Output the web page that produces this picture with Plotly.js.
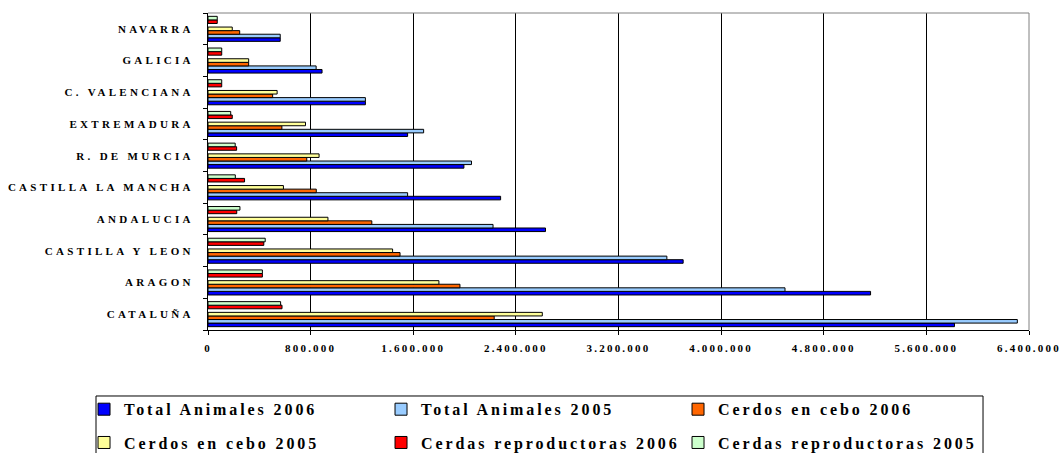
<!DOCTYPE html>
<html>
<head>
<meta charset="utf-8">
<script src="https://cdn.plot.ly/plotly-3.0.1.min.js"></script>
<style>
html,body{margin:0;padding:0;background:#fff;}
#chart{width:1061px;height:453px;}
.ytick text{letter-spacing:3.3px;}
.xtick text{letter-spacing:2.2px;}
</style>
</head>
<body>
<div id="chart"></div>
<script>
// Categories listed bottom to top
const categories = ['CATALUÑA','ARAGON','CASTILLA Y LEON','ANDALUCIA','CASTILLA LA MANCHA','R. DE MURCIA','EXTREMADURA','C. VALENCIANA','GALICIA','NAVARRA'];

const totalAnimales2006 = [5819000, 5165000, 3704000, 2631000, 2281000, 1995000, 1556000, 1227000, 889000, 563000];
const totalAnimales2005 = [6309000, 4498000, 3577000, 2222000, 1556000, 2054000, 1681000, 1227000, 843000, 563000];
const cerdosCebo2006   = [2231000, 1964000, 1497000, 1277000, 844000, 770000, 576000, 504000, 317000, 247000];
const cerdosCebo2005   = [2606000, 1800000, 1439000, 935000, 588000, 866000, 760000, 539000, 317000, 189000];
const cerdasRepr2006   = [577000, 424000, 435000, 224000, 285000, 223000, 189000, 107000, 107000, 72000];
const cerdasRepr2005   = [566000, 424000, 446000, 249000, 213000, 212000, 177000, 107000, 107000, 72000];
const emptySlot        = [0,0,0,0,0,0,0,0,0,0];

const seriesNames = ['Total Animales 2006','Total Animales 2005','Cerdos en cebo 2006','Cerdos en cebo 2005','Cerdas reproductoras 2006','Cerdas reproductoras 2005'];
const seriesColors = ['#0000FF','#99CCFF','#FF6600','#FFFF99','#FF0000','#CCFFCC'];

function bar(name, vals, color, legend) {
  return {
    type: 'bar', orientation: 'h', name: name, x: vals, y: categories,
    marker: {color: color, line: {color: '#000000', width: 1}},
    legend: legend, hoverinfo: 'x+name'
  };
}

const lastTrace = bar(seriesNames[5], cerdasRepr2005, seriesColors[5], 'legend2');
lastTrace.legendwidth = 275;

const traces = [
  bar(seriesNames[0], totalAnimales2006, seriesColors[0], 'legend'),
  bar(seriesNames[1], totalAnimales2005, seriesColors[1], 'legend'),
  bar(seriesNames[2], cerdosCebo2006, seriesColors[2], 'legend'),
  bar(seriesNames[3], cerdosCebo2005, seriesColors[3], 'legend2'),
  {type: 'bar', orientation: 'h', x: emptySlot, y: categories, showlegend: false,
   marker: {color: 'rgba(0,0,0,0)', line: {width: 0}}, hoverinfo: 'skip'},
  bar(seriesNames[4], cerdasRepr2006, seriesColors[4], 'legend2'),
  lastTrace
];

const serif = 'Liberation Serif, Times New Roman, serif';
function makeLegend(y) {
  return {
    orientation: 'h', xanchor: 'left', yanchor: 'top',
    x: -0.151, y: y, entrywidth: 252, entrywidthmode: 'pixels',
    font: {family: serif, size: 16, color: '#000000', weight: 'bold'},
    bgcolor: 'rgba(0,0,0,0)', borderwidth: 0, itemclick: false, itemdoubleclick: false
  };
}

const layout = {
  width: 1061, height: 453,
  margin: {l: 208, r: 32, t: 13, b: 123, autoexpand: false},
  paper_bgcolor: '#ffffff', plot_bgcolor: '#ffffff',
  separators: ',.',
  barmode: 'group', bargap: 0.21, bargroupgap: 0,
  font: {family: serif, color: '#000'},
  xaxis: {
    range: [0, 6400000], tick0: 0, dtick: 800000, tickformat: ',d',
    showgrid: true, gridcolor: '#000000', gridwidth: 1,
    zeroline: false, showline: true, linecolor: '#000000', linewidth: 1,
    ticks: 'outside', ticklen: 4, tickcolor: '#000',
    tickfont: {family: serif, size: 11, color: '#000', weight: 'bold'},
    ticklabelstandoff: 4, ticklabeloverflow: 'allow',
    fixedrange: true
  },
  yaxis: {
    type: 'category', showgrid: false, zeroline: false,
    showline: true, linecolor: '#000000', linewidth: 1,
    ticks: 'outside', ticklen: 4, tickcolor: '#000', tickson: 'boundaries',
    tickfont: {family: serif, size: 11, color: '#000', weight: 'bold'},
    ticklabelstandoff: 11,
    fixedrange: true
  },
  legend: makeLegend(-0.1965),
  legend2: makeLegend(-0.3015),
  shapes: [
    {type: 'line', xref: 'paper', yref: 'paper', x0: 0, x1: 1, y0: 1, y1: 1, line: {color: '#808080', width: 1}},
    {type: 'line', xref: 'paper', yref: 'paper', x0: 1, x1: 1, y0: 0, y1: 1, line: {color: '#808080', width: 1}},
    {type: 'rect', xref: 'paper', yref: 'paper', x0: -0.1364, x1: 0.9440, y0: -0.45, y1: -0.2082,
     line: {color: '#000000', width: 1}, fillcolor: 'rgba(0,0,0,0)'}
  ]
};

function spaceLegendText() {
  document.querySelectorAll('#chart g.infolayer text').forEach(function (t) {
    t.style.letterSpacing = '2.9px';
    t.style.fontWeight = 'bold';
  });
}

Plotly.newPlot('chart', traces, layout, {displayModeBar: false, staticPlot: true}).then(function (gd) {
  spaceLegendText();
  setTimeout(spaceLegendText, 50);
});
</script>
</body>
</html>
